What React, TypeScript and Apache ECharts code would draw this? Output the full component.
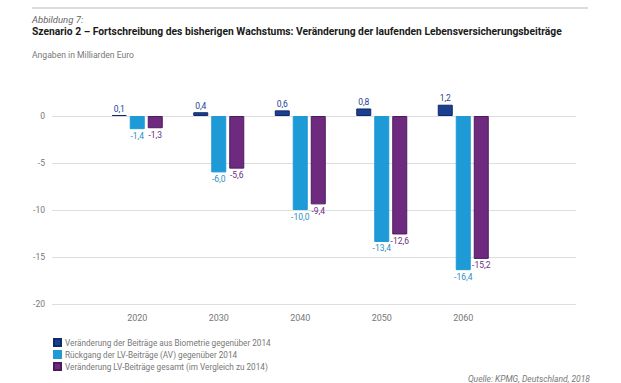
import React, { useEffect, useRef } from "react";
import * as echarts from "echarts";

const categories = ["2020", "2030", "2040", "2050", "2060"];
const biometrie = [0.1, 0.4, 0.6, 0.8, 1.2];
const rueckgang = [-1.4, -6.0, -10.0, -13.4, -16.4];
const gesamt = [-1.3, -5.6, -9.4, -12.6, -15.2];
const seriesNames = [
  "Veränderung der Beiträge aus Biometrie gegenüber 2014",
  "Rückgang der LV-Beiträge (AV) gegenüber 2014",
  "Veränderung LV-Beiträge gesamt (im Vergleich zu 2014)",
];
const yTicks = [0, -5, -10, -15, -20];

const FONT = "Roboto, 'Liberation Sans', sans-serif";
const fmt = (v: number) => v.toFixed(1).replace(".", ",");

export default function App() {
  const ref = useRef<HTMLDivElement>(null);
  useEffect(() => {
    if (!ref.current) return;
    const chart = echarts.init(ref.current, undefined, { renderer: "svg" });
    const colors = ["#1b3f8f", "#1e9ad6", "#6d2a7f"];
    const labelColors = ["#1b3f8f", "#2a8fc4", "#6d2a7f"];
    const data = [biometrie, rueckgang, gesamt];
    chart.setOption({
      animation: false,
      textStyle: { fontFamily: FONT },
      grid: [
        { left: 52, right: 45, top: 116, bottom: 79, containLabel: false },
        { left: 96.5, right: 117, top: 97.2, bottom: 79, containLabel: false },
      ],
      xAxis: [
        { type: "category", gridIndex: 0, data: categories, show: false },
        {
          type: "category",
          gridIndex: 1,
          data: categories,
          axisLine: { show: false },
          axisTick: { show: false },
          axisLabel: { color: "#777", fontSize: 9, margin: 9, fontFamily: FONT },
        },
      ],
      yAxis: [
        {
          type: "value",
          gridIndex: 0,
          min: -20,
          max: 0,
          interval: 5,
          axisLine: { show: false },
          axisTick: { show: false },
          splitLine: { lineStyle: { color: "#dedede", width: 1 } },
          axisLabel: {
            color: "#777",
            fontSize: 8.5,
            margin: 7,
            fontFamily: FONT,
            formatter: (v: number) => (yTicks.includes(v) ? String(v) : ""),
          },
        },
        { type: "value", gridIndex: 1, min: -20, max: 2, show: false },
      ],
      legend: {
        orient: "vertical",
        left: 48,
        top: 333,
        itemWidth: 7,
        itemHeight: 7,
        itemGap: 3,
        icon: "rect",
        textStyle: { color: "#777", fontSize: 8.2, fontFamily: FONT, padding: [0, 0, 0, -1] },
        data: seriesNames,
      },
      series: data.map((d, i) => ({
        type: "bar",
        name: seriesNames[i],
        xAxisIndex: 1,
        yAxisIndex: 1,
        data: d,
        barWidth: 15,
        barGap: "20%",
        itemStyle: {
          color: colors[i],
          borderColor: i === 0 ? "#0f2a6a" : i === 2 ? "#4e1a5e" : colors[i],
          borderWidth: 1,
        },
        label: {
          show: true,
          position: i === 0 ? "top" : "bottom",
          distance: 2,
          fontSize: 8.5,
          fontFamily: FONT,
          color: labelColors[i],
          formatter: (p: any) => fmt(p.value),
        },
      })),
      graphic: [
        {
          type: "line",
          shape: { x1: 32, y1: 8, x2: 588, y2: 8 },
          style: { stroke: "#d0d0d0", lineWidth: 1.5 },
        },
        {
          type: "text",
          left: 32,
          top: 14,
          style: { text: "Abbildung 7:", fill: "#666", font: `italic 9.5px ${FONT}` },
        },
        {
          type: "text",
          left: 32,
          top: 26.5,
          style: {
            text: "Szenario 2 – Fortschreibung des bisherigen Wachstums: Veränderung der laufenden Lebensversicherungsbeiträge",
            fill: "#1a1a1a",
            font: `bold 10.3px ${FONT}`,
          },
        },
        {
          type: "text",
          left: 32,
          top: 50,
          style: { text: "Angaben in Milliarden Euro", fill: "#777", font: `8.6px ${FONT}` },
        },
        {
          type: "text",
          right: 31,
          top: 374,
          style: { text: "Quelle: KPMG, Deutschland, 2018", fill: "#777", font: `italic 8.5px ${FONT}` },
        },
      ],
    });
    return () => chart.dispose();
  }, []);
  return (
    <div
      ref={ref}
      style={{ position: "fixed", left: 0, top: 0, width: 621, height: 383, background: "#fff" }}
    />
  );
}
